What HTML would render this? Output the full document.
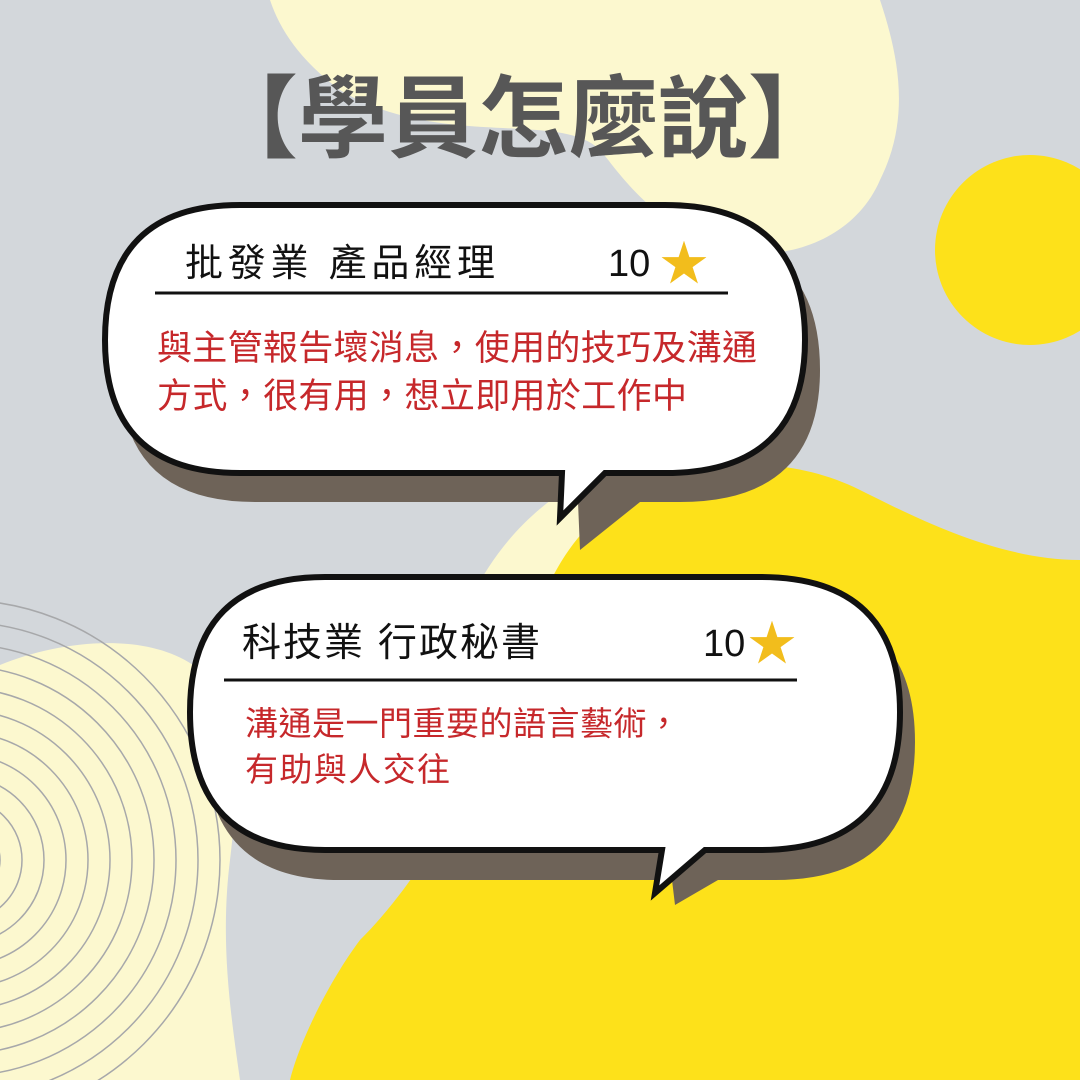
<!DOCTYPE html>
<html><head><meta charset="utf-8"><style>
html,body{margin:0;padding:0;width:1080px;height:1080px;overflow:hidden;background:#d3d7db}
svg{display:block}
text{font-family:"Liberation Sans","Noto Sans CJK TC",sans-serif}
</style></head><body>
<svg width="1080" height="1080" viewBox="0 0 1080 1080">
<rect width="1080" height="1080" fill="#d3d7db"/>
<path d="M270 0 L880 0 C900 60 910 120 880 180 C850 250 760 270 700 240 C640 210 610 160 600 150 C560 110 440 150 340 90 C300 60 280 30 270 0Z" fill="#fcf8cf"/>
<circle cx="1030" cy="250" r="95" fill="#fde11a"/>
<path d="M470 600 C500 540 540 500 600 470 L640 470 L620 560 L520 620Z" fill="#fcf8cf"/>
<path d="M1080 560 C1000 560 920 520 860 490 C780 450 680 460 620 500 C560 540 540 600 520 660 C480 780 420 880 360 940 C330 980 300 1040 290 1080 L1080 1080Z" fill="#fde11a"/>
<path d="M0 665 C60 640 150 630 200 670 C240 700 240 780 230 860 C220 940 230 1010 240 1080 L0 1080Z" fill="#fcf8cf"/>
<g fill="none" stroke="#a7a8aa" stroke-width="1.5">
<circle cx="-40" cy="860" r="40"/><circle cx="-40" cy="860" r="62"/><circle cx="-40" cy="860" r="84"/><circle cx="-40" cy="860" r="106"/><circle cx="-40" cy="860" r="128"/><circle cx="-40" cy="860" r="150"/><circle cx="-40" cy="860" r="172"/><circle cx="-40" cy="860" r="194"/><circle cx="-40" cy="860" r="216"/><circle cx="-40" cy="860" r="238"/><circle cx="-40" cy="860" r="260"/>
</g>
<text x="523" y="150" text-anchor="middle" font-size="90" font-weight="bold" fill="#575757">【學員怎麼說】</text>

<g>
<path d="M255 233 L680 233 Q820 233 820 370 Q820 502 680 502 L640 502 L580 550 L578 502 L255 502 Q120 502 120 370 Q120 233 255 233Z" fill="#6e6358"/>
<path d="M240 205 L665 205 Q805 205 805 340 Q805 473 665 473 L605 473 L560 518 L562 473 L240 473 Q105 473 105 340 Q105 205 240 205Z" fill="#fff" stroke="#111" stroke-width="6"/>
<text x="185" y="276" textLength="310" font-size="38" fill="#111">批發業  產品經理</text>
<text x="608" y="276" font-size="38" fill="#111">10</text>
<text x="660" y="280" font-size="48" fill="#f2bd1c">★</text>
<line x1="155" y1="293" x2="728" y2="293" stroke="#111" stroke-width="3"/>
<text x="157" y="360" textLength="600" font-size="35" fill="#c6282b">與主管報告壞消息，使用的技巧及溝通</text>
<text x="157" y="408" textLength="530" font-size="35" fill="#c6282b">方式，很有用，想立即用於工作中</text>
</g>

<g>
<path d="M340 605 L775 605 Q915 605 915 742 Q915 880 775 880 L718 880 L675 905 L672 880 L340 880 Q205 880 205 742 Q205 605 340 605Z" fill="#6e6358"/>
<path d="M325 577 L760 577 Q900 577 900 712 Q900 850 760 850 L705 850 L655 893 L662 850 L325 850 Q190 850 190 712 Q190 577 325 577Z" fill="#fff" stroke="#111" stroke-width="6"/>
<text x="242" y="656" textLength="298" font-size="39" fill="#111">科技業 行政秘書</text>
<text x="703" y="656" font-size="38" fill="#111">10</text>
<text x="748" y="660" font-size="48" fill="#f2bd1c">★</text>
<line x1="224" y1="680" x2="797" y2="680" stroke="#111" stroke-width="3"/>
<text x="245" y="735" textLength="435" font-size="33" fill="#c6282b">溝通是一門重要的語言藝術，</text>
<text x="245" y="781" textLength="205" font-size="33" fill="#c6282b">有助與人交往</text>
</g>
</svg>
</body></html>
